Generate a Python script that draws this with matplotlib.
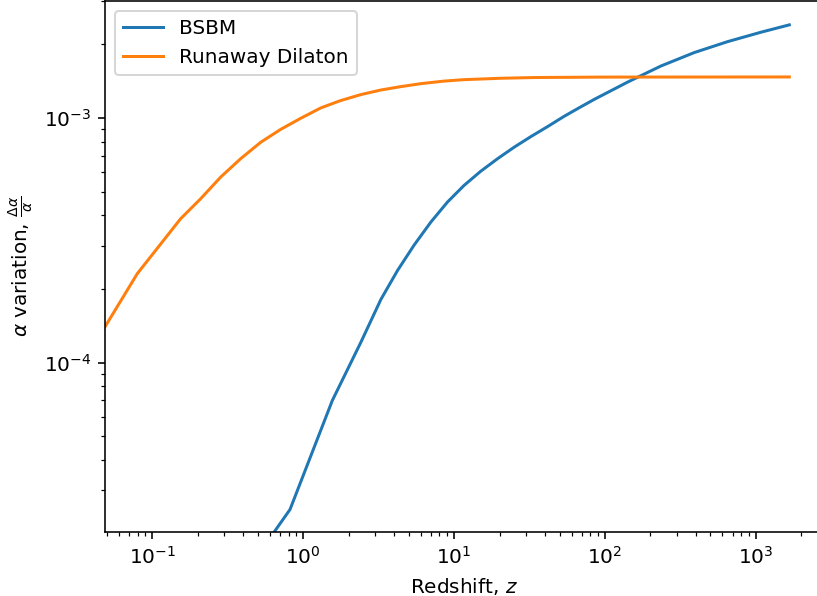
import numpy as np
import matplotlib
matplotlib.use("Agg")
import matplotlib.pyplot as plt

z_bsbm = [0.5, 0.818, 1.56, 2.41, 3.27, 4.22, 5.43, 7.01, 9.04, 11.65, 15.0,
          19.4, 25.0, 32.3, 41.6, 53.6, 69.2, 84.8, 141.0, 235.0, 391.0,
          650.0, 1081.0, 1665.0]
da_bsbm = [1.63e-5, 2.51e-5, 7.0e-5, 1.21e-4, 1.81e-4, 2.38e-4, 3.02e-4,
           3.75e-4, 4.53e-4, 5.30e-4, 6.05e-4, 6.81e-4, 7.59e-4, 8.39e-4,
           9.21e-4, 1.015e-3, 1.11e-3, 1.19e-3, 1.40e-3, 1.63e-3, 1.85e-3,
           2.05e-3, 2.24e-3, 2.40e-3]

z_dil = [0.0486, 0.0796, 0.154, 0.209, 0.284, 0.385, 0.523, 0.71, 0.962,
         1.31, 1.77, 2.41, 3.27, 4.43, 6.01, 8.5, 11.6, 20.4, 34.0, 94.0,
         1665.0]
da_dil = [1.40e-4, 2.31e-4, 3.87e-4, 4.67e-4, 5.73e-4, 6.81e-4, 7.95e-4,
          8.98e-4, 9.96e-4, 1.099e-3, 1.177e-3, 1.245e-3, 1.30e-3, 1.342e-3,
          1.38e-3, 1.413e-3, 1.433e-3, 1.452e-3, 1.462e-3, 1.468e-3, 1.47e-3]

DPI = 144
fig = plt.figure(figsize=(817 / DPI, 596 / DPI), dpi=DPI)
ax = fig.add_axes([105 / 817, 64 / 596, 718.4 / 817, 531.2 / 596])

ax.plot(z_bsbm, da_bsbm, label="BSBM")
ax.plot(z_dil, da_dil, label="Runaway Dilaton")

ax.set_xscale("log")
ax.set_yscale("log")
ax.set_xlim(0.0486, 2800)
ax.set_ylim(2.03e-5, 3.01e-3)
ax.set_xlabel("Redshift, $z$")
ax.set_ylabel(r"$\alpha$ variation, $\frac{\Delta\alpha}{\alpha}$")
ax.legend(loc="upper left")

fig.savefig("out.png", dpi=DPI)
